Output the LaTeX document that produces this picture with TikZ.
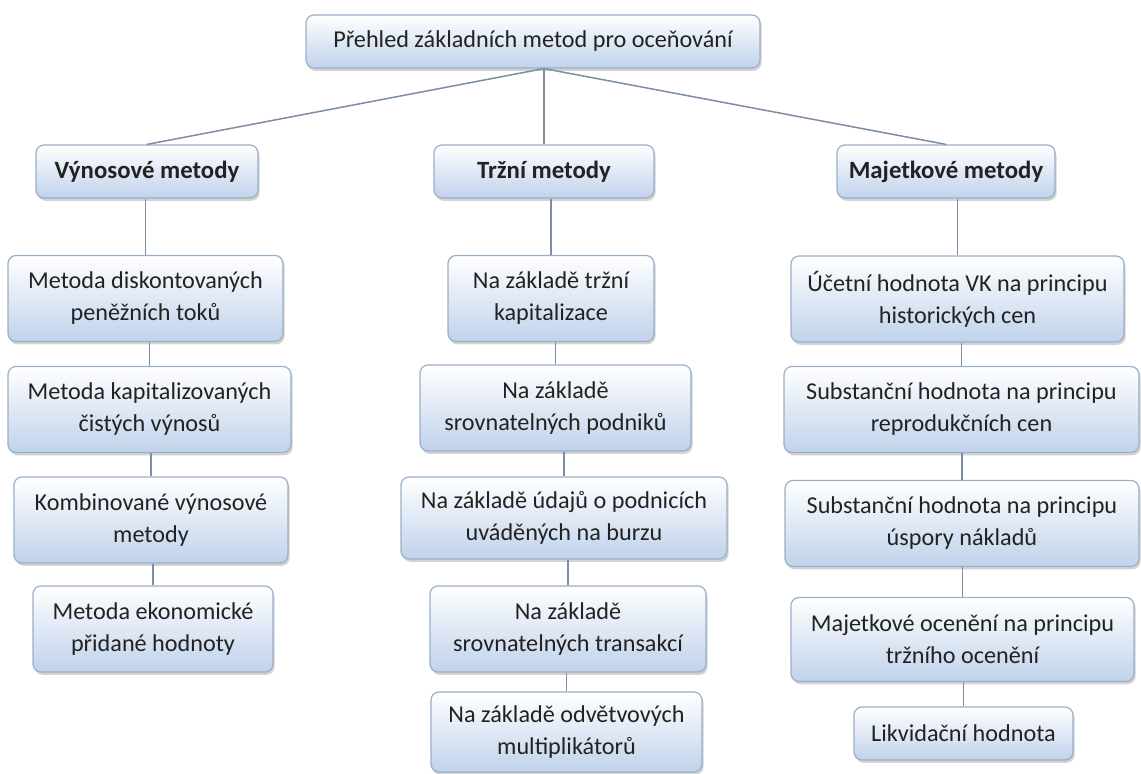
\documentclass[tikz,border=0pt]{standalone}
\usepackage{fontspec}
\setmainfont{Carlito}
\usetikzlibrary{shadows}
\definecolor{boxline}{HTML}{9AAFC8}
\definecolor{boxfill}{HTML}{C0D2EB}
\definecolor{linkcol}{HTML}{7D8DA3}
\definecolor{txtcol}{HTML}{222222}
\tikzstyle{method} = [draw=boxline, line width=0.6pt, rounded corners=4pt,
  top color=white, bottom color=boxfill, inner sep=2pt, align=center,
  text=txtcol, font=\fontsize{12.1}{16}\selectfont,
  drop shadow={shadow xshift=0.8pt, shadow yshift=-1.4pt, opacity=0.35}]
\tikzstyle{group} = [method, font=\fontsize{12.4}{16}\selectfont\bfseries,
  minimum height=26.5pt]
\tikzstyle{edge} = [draw=linkcol, line width=0.75pt]

\begin{document}
\begin{tikzpicture}[x=0.5pt,y=-0.5pt]
    \useasboundingbox (0,0) rectangle (1141,774);
    % korenovy uzel
    \node[method,minimum width=227pt,minimum height=26.5pt] (top) at (533,41.5)
        {Přehled základních metod pro oceňování};
    % skupiny metod
    \node[group,minimum width=111pt] (vyn) at (147,171.5) {Výnosové metody};
    \node[group,minimum width=110pt] (trz) at (544,171.5) {Tržní metody};
    \node[group,minimum width=109pt] (maj) at (946,171.5) {Majetkové metody};
    % vynosove metody
    \node[method,minimum width=137.5pt,minimum height=43pt] (vyn1) at (145.5,298.5)
        {Metoda diskontovaných\\peněžních toků};
    \node[method,minimum width=141.5pt,minimum height=43pt] (vyn2) at (149.5,409.5)
        {Metoda kapitalizovaných\\čistých výnosů};
    \node[method,minimum width=137pt,minimum height=43pt] (vyn3) at (151,520)
        {Kombinované výnosové\\metody};
    \node[method,minimum width=120pt,minimum height=43pt] (vyn4) at (153,629)
        {Metoda ekonomické\\přidané hodnoty};
    % trzni metody
    \node[method,minimum width=103pt,minimum height=43pt] (trz1) at (551,298.5)
        {Na základě tržní\\kapitalizace};
    \node[method,minimum width=135.5pt,minimum height=43pt] (trz2) at (555.5,408)
        {Na základě\\srovnatelných podniků};
    \node[method,minimum width=163pt,minimum height=41pt] (trz3) at (564,518)
        {Na základě údajů o podnicích\\uváděných na burzu};
    \node[method,minimum width=138pt,minimum height=43pt] (trz4) at (568,629)
        {Na základě\\srovnatelných transakcí};
    \node[method,minimum width=135.5pt,minimum height=40pt] (trz5) at (566.5,732)
        {Na základě odvětvových\\multiplikátorů};
    % majetkove metody
    \node[method,minimum width=166.5pt,minimum height=43pt] (maj1) at (957.5,299)
        {Účetní hodnota VK na principu\\historických cen};
    \node[method,minimum width=177.5pt,minimum height=43pt] (maj2) at (961.5,409.5)
        {Substanční hodnota na principu\\reprodukčních cen};
    \node[method,minimum width=177pt,minimum height=43pt] (maj3) at (962,523.5)
        {Substanční hodnota na principu\\úspory nákladů};
    \node[method,minimum width=171.5pt,minimum height=42pt] (maj4) at (962.5,639.5)
        {Majetkové ocenění na principu\\tržního ocenění};
    \node[method,minimum width=109.5pt,minimum height=26.5pt] (maj5) at (963.5,733.5)
        {Likvidační hodnota};
    % spojnice
    \draw[edge] (top.south -| trz.north) -- (vyn.north);
    \draw[edge] (top.south -| trz.north) -- (trz.north);
    \draw[edge] (top.south -| trz.north) -- (maj.north);
    \draw[edge] (vyn1.north) -- (vyn1.north |- vyn.south);
    \draw[edge] (vyn2.north) -- (vyn2.north |- vyn1.south);
    \draw[edge] (vyn3.north) -- (vyn3.north |- vyn2.south);
    \draw[edge] (vyn4.north) -- (vyn4.north |- vyn3.south);
    \draw[edge] (trz1.north) -- (trz1.north |- trz.south);
    \draw[edge] (trz2.north) -- (trz2.north |- trz1.south);
    \draw[edge] (trz3.north) -- (trz3.north |- trz2.south);
    \draw[edge] (trz4.north) -- (trz4.north |- trz3.south);
    \draw[edge] (trz5.north) -- (trz5.north |- trz4.south);
    \draw[edge] (maj1.north) -- (maj1.north |- maj.south);
    \draw[edge] (maj2.north) -- (maj2.north |- maj1.south);
    \draw[edge] (maj3.north) -- (maj3.north |- maj2.south);
    \draw[edge] (maj4.north) -- (maj4.north |- maj3.south);
    \draw[edge] (maj5.north) -- (maj5.north |- maj4.south);
\end{tikzpicture}
\end{document}
